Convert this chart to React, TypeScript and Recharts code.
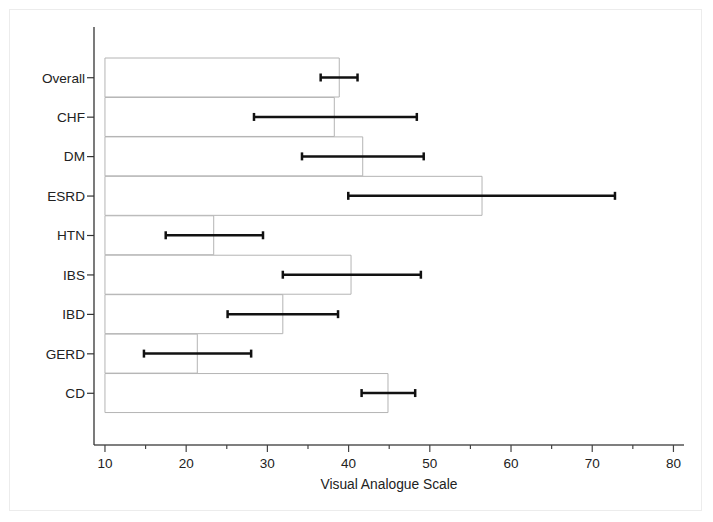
import React from 'react';
import { BarChart, Bar, XAxis, YAxis, ErrorBar } from 'recharts';

// disease groups, top to bottom
const categories = ['Overall', 'CHF', 'DM', 'ESRD', 'HTN', 'IBS', 'IBD', 'GERD', 'CD'];
// mean VAS score per group
const means = [38.85, 38.24, 41.74, 56.43, 23.39, 40.3, 31.9, 21.37, 44.85];
// 95% CI bounds
const ciLow = [36.56, 28.35, 34.26, 39.96, 17.48, 31.9, 25.1, 14.8, 41.6];
const ciHigh = [41.1, 48.4, 49.25, 72.8, 29.46, 48.9, 38.7, 28.0, 48.2];

const xTicks = [10, 15, 20, 25, 30, 35, 40, 45, 50, 55, 60, 65, 70, 75, 80];
const BAR_BASE = 10;

const data = categories.map((name, i) => ({
  name,
  vas: [BAR_BASE, means[i]],
  ci: [means[i] - ciLow[i], ciHigh[i] - means[i]],
}));

const FONT = 'Arial, "Liberation Sans", sans-serif';

const XTick = (props: any) => {
  const { x, y, payload } = props;
  const major = payload.value % 10 === 0;
  return (
    <g>
      <line x1={x} x2={x} y1={y} y2={y + (major ? 7 : 4)} stroke="#444" strokeWidth={1.2} />
      {major && (
        <text x={x} y={y + 23} textAnchor="middle" fontSize={13.5} fill="#222" fontFamily={FONT}>
          {payload.value}
        </text>
      )}
    </g>
  );
};

export default function App() {
  return (
    <div style={{ position: 'absolute', left: 0, top: 0, width: 713, height: 522, background: '#fff' }}>
      <div
        style={{
          position: 'absolute',
          left: 9,
          top: 9,
          width: 691,
          height: 500,
          border: '1px solid #ececec',
        }}
      />
      <div style={{ position: 'absolute', left: 0, top: 0 }}>
        <BarChart
          width={713}
          height={522}
          data={data}
          layout="vertical"
          barCategoryGap={0}
          margin={{ top: 27, right: 29, left: 0, bottom: 27 }}
        >
          <XAxis
            type="number"
            domain={[8.65, 81.3]}
            ticks={xTicks}
            allowDataOverflow
            height={50}
            tickSize={0}
            tickMargin={0}
            tickLine={false}
            tick={<XTick />}
            axisLine={{ stroke: '#555', strokeWidth: 1.3 }}
            label={{
              value: 'Visual Analogue Scale',
              position: 'insideBottom',
              offset: 6,
              fontSize: 13.8,
              fill: '#222',
              fontFamily: FONT,
            }}
          />
          <YAxis
            type="category"
            dataKey="name"
            width={94}
            padding={{ top: 31, bottom: 32 }}
            tickSize={7}
            tickMargin={2}
            tickLine={{ stroke: '#333', strokeWidth: 1.2 }}
            axisLine={{ stroke: '#333', strokeWidth: 1.3 }}
            tick={{ fontSize: 13.6, fill: '#222', fontFamily: FONT }}
            interval={0}
          />
          <Bar dataKey="vas" fill="#fff" stroke="#b4b4b4" strokeWidth={1} isAnimationActive={false}>
            <ErrorBar dataKey="ci" direction="x" width={4} stroke="#111" strokeWidth={2.5} isAnimationActive={false} />
          </Bar>
        </BarChart>
      </div>
    </div>
  );
}
